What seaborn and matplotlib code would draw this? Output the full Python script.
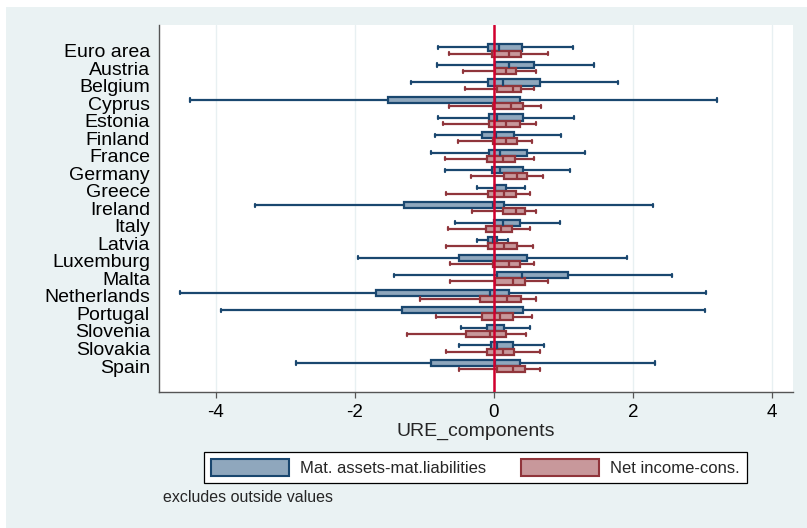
import numpy as np
import pandas as pd
import matplotlib
matplotlib.use("Agg")
import matplotlib.pyplot as plt
from matplotlib.patches import Patch, Rectangle
import seaborn as sns

# ===========================
# Data: five box stats per country
# lower whisker, q1, median, q3, upper whisker
# ===========================
countries = ["Euro area", "Austria", "Belgium", "Cyprus", "Estonia", "Finland",
             "France", "Germany", "Greece", "Ireland", "Italy", "Latvia",
             "Luxemburg", "Malta", "Netherlands", "Portugal", "Slovenia",
             "Slovakia", "Spain"]

series_names = ["Mat. assets-mat.liabilities", "Net income-cons."]

mat_low = [-0.81, -0.82, -1.19, -4.37, -0.80, -0.85, -0.91, -0.70, -0.25, -3.43,
           -0.56, -0.25, -1.96, -1.44, -4.52, -3.92, -0.47, -0.50, -2.84]
mat_q1 = [-0.08, 0.02, -0.08, -1.52, -0.07, -0.17, -0.07, -0.03, 0.01, -1.30,
          0.00, -0.08, -0.50, 0.05, -1.69, -1.32, -0.10, -0.04, -0.91]
mat_med = [0.07, 0.22, 0.13, 0.01, 0.04, 0.03, 0.08, 0.08, 0.02, -0.02,
           0.13, -0.01, 0.02, 0.40, -0.05, 0.02, 0.01, 0.04, 0.02]
mat_q3 = [0.41, 0.58, 0.66, 0.38, 0.42, 0.29, 0.48, 0.42, 0.18, 0.14,
          0.38, 0.04, 0.47, 1.06, 0.21, 0.42, 0.15, 0.27, 0.38]
mat_high = [1.13, 1.44, 1.78, 3.21, 1.15, 0.97, 1.31, 1.09, 0.44, 2.28,
            0.95, 0.20, 1.92, 2.56, 3.05, 3.03, 0.52, 0.72, 2.32]

inc_low = [-0.64, -0.44, -0.41, -0.65, -0.73, -0.52, -0.70, -0.33, -0.69, -0.32,
           -0.66, -0.69, -0.63, -0.63, -1.06, -0.84, -1.25, -0.69, -0.50]
inc_q1 = [-0.03, 0.01, 0.05, -0.01, -0.07, -0.01, -0.10, 0.15, -0.08, 0.13,
          -0.11, -0.08, -0.02, 0.01, -0.20, -0.17, -0.40, -0.10, 0.05]
inc_med = [0.22, 0.18, 0.27, 0.24, 0.18, 0.17, 0.13, 0.33, 0.14, 0.31,
           0.10, 0.14, 0.22, 0.27, 0.19, 0.09, -0.05, 0.13, 0.27]
inc_q3 = [0.39, 0.32, 0.39, 0.42, 0.38, 0.33, 0.30, 0.48, 0.32, 0.44,
          0.26, 0.33, 0.38, 0.44, 0.39, 0.28, 0.17, 0.29, 0.44]
inc_high = [0.78, 0.60, 0.57, 0.68, 0.61, 0.55, 0.57, 0.70, 0.52, 0.61,
            0.52, 0.56, 0.58, 0.78, 0.60, 0.54, 0.46, 0.66, 0.66]

fills = {series_names[0]: "#8FA7BD", series_names[1]: "#C8989B"}
edges = {series_names[0]: "#1A476F", series_names[1]: "#90353B"}

# long table: the five stats per box are the observations, so quartiles
# (linear interpolation) and min/max whiskers land exactly on them
rows = []
stats = {series_names[0]: [mat_low, mat_q1, mat_med, mat_q3, mat_high],
         series_names[1]: [inc_low, inc_q1, inc_med, inc_q3, inc_high]}
for s in series_names:
    for i, c in enumerate(countries):
        for arr in stats[s]:
            rows.append({"country": c, "series": s, "value": arr[i]})
df = pd.DataFrame(rows)

# ===========================
# Plot
# ===========================
sns.set_style("white")
plt.rcParams["font.family"] = ["Liberation Sans", "DejaVu Sans"]

bg = "#EAF2F3"
fig = plt.figure(figsize=(8.07, 5.28), dpi=100, facecolor="white")
fig.patches.append(Rectangle((6 / 807, 0), 1, 1 - 7 / 528, transform=fig.transFigure,
                             facecolor=bg, edgecolor="none", zorder=-10))
ax = fig.add_axes([159 / 807, 1 - 392 / 528, (793 - 159) / 807, (392 - 25) / 528])
ax.set_facecolor("white")

for s in series_names:
    sns.boxplot(data=df[df["series"] == s], x="value", y="country", hue="series",
                hue_order=series_names, order=countries, orient="h",
                palette=fills, saturation=1, whis=(0, 100), width=0.7, gap=0,
                dodge=True, linecolor=edges[s], linewidth=1.6, legend=False, ax=ax)

ax.axvline(0, color="#D2002E", lw=1.8, zorder=10)

ax.set_xlim(-4.817, 4.30)
ax.set_ylim(19.48, -1.455)
ax.set_xticks([-4, -2, 0, 2, 4])
ax.set_xticklabels(["-4", "-2", "0", "2", "4"])
ax.grid(axis="x", color="#E8F0F2", lw=1)
ax.set_axisbelow(True)

for side in ["top", "right"]:
    ax.spines[side].set_visible(False)
for side in ["left", "bottom"]:
    ax.spines[side].set_color("#555555")
    ax.spines[side].set_linewidth(1.0)

ax.tick_params(axis="x", length=4.3, width=0.9, color="#555555", pad=4,
               labelsize=13.5, labelcolor="black", direction="out", bottom=True)
ax.tick_params(axis="y", length=0, pad=6.5, labelsize=14, labelcolor="black")
ax.set_ylabel("")
ax.set_xlabel("URE_components", fontsize=14, labelpad=2)

handles = [Patch(facecolor=fills[s], edgecolor=edges[s], lw=1.5) for s in series_names]
leg = fig.legend(handles, series_names, loc="center", ncol=2,
                 bbox_to_anchor=(475.5 / 807, 1 - 467.5 / 528), fontsize=12,
                 frameon=True, fancybox=False, framealpha=1, facecolor="white",
                 edgecolor="black", handlelength=4.68, handleheight=1.14,
                 handletextpad=0.66, columnspacing=2.1, borderpad=0.43)
leg.get_frame().set_linewidth(0.9)

fig.text(163 / 807, 1 - 498 / 528, "excludes outside values", fontsize=11.5,
         ha="left", va="center")

plt.savefig("out.png", dpi=100, facecolor=fig.get_facecolor())
